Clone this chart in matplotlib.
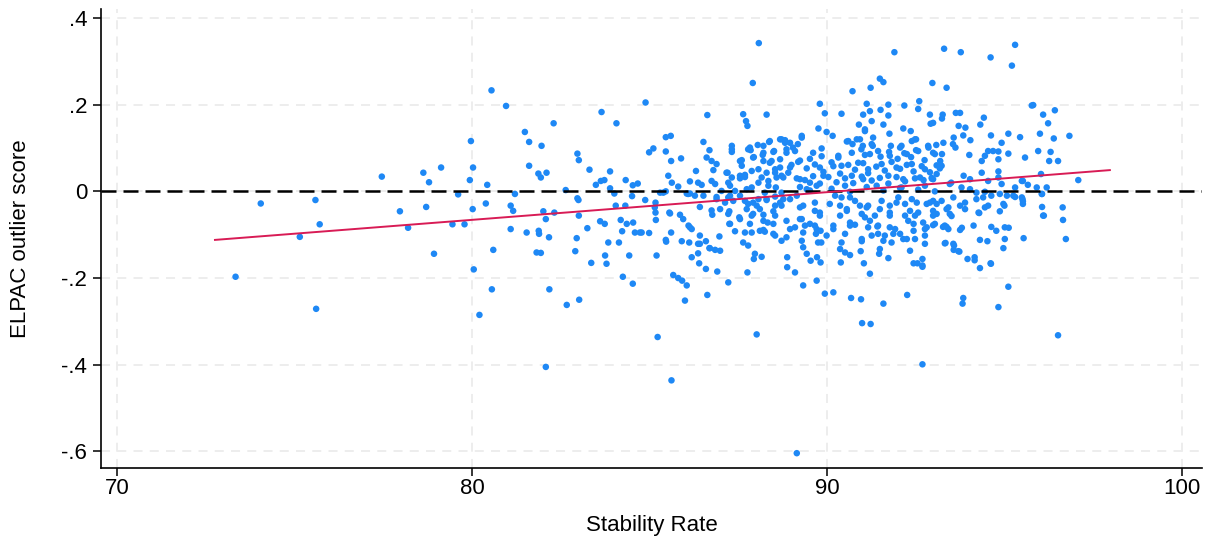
import numpy as np
import matplotlib
matplotlib.use("Agg")
import matplotlib.pyplot as plt

plt.rcParams['font.family'] = ['Liberation Sans', 'DejaVu Sans']

# (stability rate, ELPAC outlier score), grouped by region
tail_pts = [
    (73.34, -0.197), (74.05, -0.028), (75.15, -0.105), (75.59, -0.020), (75.71, -0.076),
    (75.61, -0.271), (77.46, 0.034), (77.97, -0.046), (78.20, -0.084), (78.63, 0.043),
    (78.79, 0.021), (79.13, 0.055), (78.71, -0.036), (78.93, -0.144), (79.45, -0.076),
    (79.61, -0.007), (79.79, -0.076), (79.97, 0.116), (80.03, 0.055), (79.94, 0.026),
    (80.02, -0.041), (80.05, -0.180), (80.21, -0.285),
]

mid_pts = [
    (80.55, 0.233), (80.96, 0.197), (80.43, 0.015), (80.39, -0.028), (80.60, -0.135),
    (80.56, -0.226), (81.49, 0.137), (81.61, 0.114), (81.96, 0.105), (82.30, 0.157),
    (81.61, 0.059), (81.87, 0.041), (81.94, 0.032), (82.10, 0.043), (81.21, -0.006),
    (81.09, -0.033), (81.16, -0.045), (81.09, -0.087), (81.54, -0.095), (81.88, -0.091),
    (81.89, -0.098), (82.01, -0.046), (82.08, -0.064), (82.32, -0.049), (82.17, -0.106),
    (81.82, -0.141), (81.94, -0.142), (82.18, -0.226), (82.08, -0.405), (82.64, 0.003),
    (82.97, 0.087), (83.01, 0.072), (83.31, 0.050), (82.97, -0.016), (83.00, -0.020),
    (83.01, -0.056), (82.95, -0.108), (82.91, -0.138), (83.25, -0.085), (83.36, -0.165),
    (82.67, -0.262), (83.02, -0.250), (83.65, 0.183), (84.07, 0.157), (83.49, 0.015),
    (83.63, 0.024), (83.73, 0.026), (83.89, 0.046), (83.89, 0.007), (84.01, -0.005),
    (84.05, -0.033), (84.32, -0.033), (84.33, 0.026), (83.61, -0.069), (83.74, -0.075),
    (83.84, -0.118), (83.75, -0.148), (83.79, -0.167), (84.14, -0.118), (84.19, -0.066),
    (84.23, -0.092), (84.36, -0.075), (84.54, -0.072), (84.59, -0.095), (84.73, -0.095),
    (84.99, -0.096), (84.43, -0.148), (84.25, -0.197), (84.53, -0.213), (84.53, 0.014),
    (84.67, 0.018), (84.51, -0.011), (84.89, 0.205), (84.99, 0.090), (85.11, 0.099),
    (84.88, -0.020), (85.17, -0.026), (85.17, -0.049), (85.18, -0.066), (85.15, -0.037),
    (85.30, -0.003), (85.39, -0.003), (85.46, 0.000), (85.20, -0.148), (85.23, -0.336),
    (85.62, -0.436), (85.46, 0.125), (85.60, 0.128), (85.46, 0.092), (85.61, 0.070),
    (85.89, 0.076), (85.53, 0.036), (85.63, 0.020), (85.81, 0.011), (85.56, -0.049),
    (85.61, -0.095), (85.86, -0.054), (85.95, -0.064), (86.14, -0.083), (85.46, -0.112),
    (85.47, -0.116), (85.91, -0.115), (86.12, -0.118), (86.19, -0.152), (85.67, -0.193),
    (85.81, -0.200), (85.92, -0.206), (86.05, -0.217), (86.00, -0.252), (86.63, 0.176),
    (86.52, 0.114), (86.61, 0.078), (86.31, 0.047), (86.14, 0.023), (86.37, 0.020),
    (86.47, 0.015), (86.05, -0.005), (86.14, -0.005), (86.42, -0.036), (86.42, -0.121),
    (86.59, -0.115), (86.37, -0.143), (86.40, -0.166), (86.59, -0.179), (86.63, -0.239),
    (86.69, -0.131), (85.58, -0.051), (86.10, -0.079), (86.19, -0.087), (84.78, -0.095),
    (86.37, -0.121), (86.42, -0.102), (86.09, -0.006), (86.28, -0.010), (86.52, -0.010),
]

core_pts = [
    (87.91, 0.250), (87.64, 0.178), (87.72, 0.162), (87.76, 0.151), (88.30, 0.177),
    (86.69, 0.095), (86.75, 0.070), (86.89, 0.063), (86.80, 0.049), (87.32, 0.105),
    (87.32, 0.091), (87.55, 0.070), (87.60, 0.059), (87.78, 0.097), (88.05, 0.107),
    (87.92, 0.078), (88.21, 0.089), (88.21, 0.070), (88.37, 0.114), (88.51, 0.093),
    (88.44, 0.070), (88.68, 0.055), (88.82, 0.118), (88.86, 0.089), (88.54, 0.051),
    (87.20, 0.043), (87.32, 0.032), (87.22, 0.020), (87.55, 0.036), (87.69, 0.033),
    (87.88, 0.047), (88.07, 0.020), (88.30, 0.043), (88.35, 0.024), (88.58, 0.032),
    (88.77, 0.032), (88.91, 0.043), (88.56, 0.009), (86.75, 0.024), (86.85, 0.017),
    (87.03, 0.001), (87.41, 0.001), (87.74, 0.005), (86.89, -0.013), (87.27, -0.010),
    (88.25, -0.003), (88.72, -0.003),
    (86.70, -0.131), (86.85, -0.135), (86.99, -0.137), (86.97, -0.104), (86.91, -0.185),
    (87.22, -0.210), (86.77, -0.054), (86.75, -0.044), (86.99, -0.041), (87.25, -0.046),
    (86.89, -0.018), (87.22, -0.014), (87.55, -0.010), (87.53, -0.060), (87.25, -0.075),
    (87.41, -0.092), (87.83, -0.075), (87.78, -0.029), (87.74, -0.041), (87.92, -0.052),
    (88.11, -0.041), (88.21, -0.054), (88.33, -0.072), (88.49, -0.075), (88.54, -0.033),
    (88.49, -0.046), (88.72, -0.033), (87.92, -0.026), (88.07, -0.018), (88.30, -0.018),
    (88.54, -0.012), (88.77, -0.018), (87.64, -0.118), (87.78, -0.125), (87.88, -0.095),
    (88.21, -0.089), (88.25, -0.093), (88.54, -0.102), (88.72, -0.114), (88.86, -0.106),
    (87.97, -0.144), (87.94, -0.156), (88.16, -0.151), (87.76, -0.187), (88.88, -0.152),
    (88.88, -0.175),
    (88.08, 0.342), (91.90, 0.321), (93.30, 0.329), (92.97, 0.250), (93.37, 0.239),
    (90.72, 0.231), (91.23, 0.239), (91.49, 0.260), (91.59, 0.252), (89.80, 0.202),
    (89.94, 0.180), (89.76, 0.145), (89.99, 0.137), (90.16, 0.128), (90.41, 0.179),
    (91.12, 0.202), (91.21, 0.185), (91.73, 0.200), (92.18, 0.198), (92.60, 0.208),
    (92.57, 0.190), (92.90, 0.177), (92.99, 0.158), (93.26, 0.177), (90.90, 0.154),
    (91.07, 0.143), (91.26, 0.162), (91.59, 0.154), (91.76, 0.133), (92.15, 0.145),
    (92.36, 0.139), (87.83, 0.101), (88.68, 0.120), (88.82, 0.112), (89.04, 0.101),
    (89.18, 0.109), (89.29, 0.128), (90.56, 0.115), (90.72, 0.109), (90.84, 0.120),
    (91.01, 0.105), (91.29, 0.105), (91.80, 0.105), (92.06, 0.101), (92.39, 0.116),
    (92.86, 0.101), (93.08, 0.107), (93.24, 0.086),
    (88.02, -0.330), (89.15, -0.604), (90.99, -0.304), (91.23, -0.306), (92.69, -0.399),
    (92.69, -0.174), (93.34, -0.119), (93.37, -0.082), (93.37, -0.041),
    (91.02, 0.177), (91.51, 0.188), (91.73, 0.175), (92.92, 0.156), (91.07, 0.139),
    (91.30, 0.124), (92.51, 0.120), (89.61, 0.089), (89.85, 0.081), (90.13, 0.067),
    (90.32, 0.078), (90.97, 0.097), (91.21, 0.086), (91.51, 0.080), (91.75, 0.091),
    (91.99, 0.075), (92.18, 0.088), (92.37, 0.079), (92.51, 0.095), (92.75, 0.072),
    (92.99, 0.089), (89.24, 0.071), (89.00, 0.061), (89.43, 0.053), (89.66, 0.062),
    (89.90, 0.045), (90.18, 0.058), (90.37, 0.041), (90.60, 0.061), (90.79, 0.050),
    (91.02, 0.065), (91.16, 0.042), (91.39, 0.057), (91.63, 0.048), (91.82, 0.068),
    (92.06, 0.052), (92.25, 0.061), (92.44, 0.046), (92.67, 0.058), (92.90, 0.044),
    (93.09, 0.060), (89.15, 0.030), (89.38, 0.026), (89.61, 0.035), (89.80, 0.018),
    (90.04, 0.033), (90.27, 0.021), (90.51, 0.030), (90.74, 0.019), (90.98, 0.034),
    (91.26, 0.025), (91.49, 0.031), (91.73, 0.018), (91.96, 0.033), (92.20, 0.023),
    (92.48, 0.030), (92.72, 0.026), (92.95, 0.031), (89.24, 0.010), (89.52, 0.002),
    (90.13, 0.006), (90.65, -0.001), (91.12, 0.010), (91.59, 0.002), (92.06, 0.008),
    (92.57, 0.004), (93.04, 0.000),
    (89.33, -0.033), (89.15, -0.010), (89.66, -0.045), (89.80, -0.056), (89.29, -0.064),
    (89.10, -0.083), (89.38, -0.079), (89.66, -0.079), (89.69, -0.098), (89.82, -0.091),
    (89.29, -0.114), (89.33, -0.129), (89.75, -0.118), (89.84, -0.118), (89.43, -0.144),
    (89.54, -0.160), (89.72, -0.152), (89.82, -0.164), (89.10, -0.187), (89.33, -0.217),
    (89.71, -0.206), (89.94, -0.236), (90.18, -0.233), (90.68, -0.246), (90.96, -0.249),
    (91.59, -0.259), (92.26, -0.239), (90.08, -0.029), (90.37, -0.033), (90.23, -0.010),
    (90.65, -0.014), (90.93, -0.033), (91.12, -0.037), (90.56, -0.045), (90.37, -0.056),
    (91.07, -0.060), (91.21, -0.068), (90.65, -0.079), (90.79, -0.077), (90.18, -0.079),
    (90.18, -0.087), (91.44, -0.079), (91.49, -0.041), (91.77, -0.033), (91.77, -0.056),
    (92.01, -0.014), (92.20, -0.029), (92.34, -0.045), (92.53, -0.026), (92.48, -0.056),
    (92.29, -0.068), (92.71, -0.072), (92.90, -0.026), (93.09, -0.052), (93.04, -0.075),
    (92.81, -0.083), (91.77, -0.083), (91.87, -0.098), (92.06, -0.098), (92.44, -0.091),
    (92.48, -0.110), (92.76, -0.102), (92.76, -0.121), (91.26, -0.102), (91.44, -0.098),
    (91.59, -0.114), (91.82, -0.118), (92.15, -0.110), (90.41, -0.118), (90.98, -0.115),
    (90.37, -0.133), (90.51, -0.141), (90.65, -0.147), (90.95, -0.138), (91.49, -0.133),
    (91.47, -0.144), (91.73, -0.154), (92.34, -0.137), (90.39, -0.164), (91.04, -0.166),
    (91.21, -0.190), (92.44, -0.166), (92.55, -0.166), (92.69, -0.156), (92.69, -0.171),
]

# extra points from a closer look at the densest part of the cloud
core_extra = [
    (88.39, 0.116), (88.72, 0.120), (88.96, 0.112), (89.29, 0.124), (87.32, 0.097),
    (87.85, 0.095), (88.21, 0.105), (88.49, 0.091), (88.86, 0.097), (89.10, 0.093),
    (89.85, 0.099), (87.60, 0.072), (87.94, 0.079), (88.19, 0.084), (88.39, 0.066),
    (88.68, 0.074), (89.19, 0.068), (89.52, 0.075), (89.80, 0.055), (87.17, 0.043),
    (87.55, 0.030), (87.69, 0.038), (88.07, 0.051), (88.16, 0.032), (88.54, 0.043),
    (88.72, 0.036), (88.96, 0.055), (89.24, 0.028), (89.52, 0.020), (89.90, 0.036),
    (87.27, 0.013), (87.88, 0.009), (88.35, 0.013), (89.43, 0.005), (89.71, 0.013),
    (87.13, -0.026), (87.36, -0.022), (87.69, -0.022), (88.02, -0.033), (88.30, -0.020),
    (88.68, -0.026), (88.96, -0.018), (89.24, -0.037), (89.66, -0.026), (89.80, -0.049),
    (87.22, -0.052), (87.55, -0.064), (87.88, -0.056), (88.21, -0.068), (88.54, -0.056),
    (88.86, -0.068), (89.24, -0.064), (89.52, -0.075), (87.27, -0.075), (87.69, -0.095),
    (88.11, -0.091), (88.49, -0.098), (88.96, -0.087), (89.33, -0.095), (89.71, -0.087),
    (89.99, -0.102),
    (90.60, 0.116), (90.93, 0.120), (91.26, 0.109), (92.10, 0.105), (92.48, 0.120),
    (92.85, 0.105), (93.28, 0.112), (90.32, 0.082), (90.70, 0.089), (91.07, 0.084),
    (91.44, 0.093), (91.77, 0.082), (92.25, 0.086), (92.57, 0.093), (93.04, 0.086),
    (90.41, 0.059), (90.88, 0.066), (91.16, 0.051), (91.54, 0.063), (91.96, 0.055),
    (92.39, 0.063), (92.76, 0.051), (93.23, 0.059), (90.70, 0.036), (91.02, 0.028),
    (91.73, 0.036), (92.15, 0.028), (92.62, 0.032), (92.99, 0.028), (90.51, 0.013),
    (91.40, 0.013), (92.10, 0.009), (92.76, 0.013), (90.41, -0.014), (90.79, -0.022),
    (91.16, -0.033), (91.54, -0.022), (91.96, -0.026), (92.39, -0.018), (92.81, -0.029),
    (93.23, -0.022), (90.56, -0.041), (90.98, -0.052), (91.35, -0.056), (91.77, -0.049),
    (92.20, -0.056), (92.57, -0.049), (92.99, -0.056), (90.65, -0.072), (91.16, -0.083),
    (91.42, -0.081), (91.92, -0.087), (92.44, -0.075), (92.76, -0.087), (93.32, -0.079),
    (90.51, -0.098), (90.98, -0.110), (91.63, -0.102), (92.25, -0.110),
]

right_pts = [
    (95.81, 0.199), (96.42, 0.187), (96.09, 0.177), (96.23, 0.157), (93.63, 0.181),
    (93.75, 0.181), (93.24, 0.168), (94.42, 0.170), (94.32, 0.154), (93.71, 0.151),
    (93.90, 0.147), (93.84, 0.129), (94.04, 0.118), (93.57, 0.124), (93.55, 0.109),
    (93.62, 0.101), (94.62, 0.129), (95.11, 0.133), (94.92, 0.112), (95.44, 0.125),
    (96.00, 0.133), (96.39, 0.122), (96.83, 0.128), (94.01, 0.084), (94.54, 0.093),
    (94.68, 0.093), (94.83, 0.092), (94.45, 0.082), (94.36, 0.070), (95.11, 0.087),
    (94.83, 0.074), (95.58, 0.078), (95.95, 0.093), (96.30, 0.091), (96.26, 0.070),
    (96.51, 0.070), (93.19, 0.070), (93.18, 0.053), (93.09, 0.040), (92.96, 0.029),
    (93.85, 0.036), (94.03, 0.028), (94.36, 0.043), (94.54, 0.024), (94.83, 0.046),
    (94.83, 0.032), (93.46, 0.017), (93.50, 0.020), (93.79, 0.009), (94.03, 0.005),
    (94.21, -0.003), (94.45, -0.001), (94.92, 0.017), (95.30, 0.009), (95.49, 0.024),
    (95.91, 0.009), (97.08, 0.026), (94.87, -0.006), (95.07, -0.010), (95.25, -0.010),
    (92.99, -0.022), (93.09, -0.029), (92.99, -0.045), (93.42, -0.037), (93.46, -0.052),
    (93.51, -0.057), (93.75, -0.033), (93.89, -0.026), (93.89, -0.041), (93.56, -0.014),
    (94.21, -0.018), (94.40, -0.014), (94.63, -0.010), (94.54, -0.033), (94.45, -0.037),
    (94.27, -0.049), (94.29, -0.050), (94.97, -0.029), (95.00, -0.033), (94.87, -0.046),
    (95.30, -0.013), (95.49, -0.014), (95.52, -0.029), (96.06, -0.006), (96.06, -0.036),
    (96.09, -0.056), (96.64, -0.037), (96.65, -0.066), (96.73, -0.110), (95.54, -0.108),
    (92.99, -0.078), (93.27, -0.082), (93.42, -0.087), (93.75, -0.089), (93.80, -0.084),
    (94.13, -0.079), (94.63, -0.082), (94.77, -0.091), (95.01, -0.083), (95.12, -0.084),
    (95.01, -0.110), (94.31, -0.112), (94.52, -0.115), (93.32, -0.120), (93.56, -0.121),
    (93.58, -0.125), (93.73, -0.139), (94.97, -0.131), (93.96, -0.156), (94.16, -0.152),
    (94.16, -0.159), (94.31, -0.177), (94.61, -0.166), (95.11, -0.220), (93.84, -0.246),
    (93.82, -0.259), (94.83, -0.267),
    (93.77, 0.321), (94.61, 0.309), (95.30, 0.338), (95.21, 0.290), (95.77, 0.198),
    (96.03, 0.040), (96.19, 0.009), (96.05, -0.006), (96.11, -0.056), (95.52, 0.024),
    (95.66, 0.015), (95.51, -0.018), (95.52, -0.023), (96.51, -0.332), (94.62, -0.167),
    (93.57, -0.135), (93.70, -0.138),
]

# fitted line end points as drawn in the chart
fit_x = [72.76, 97.97]
fit_y = [-0.112, 0.049]

xticks = [70, 80, 90, 100]
yticks = [0.4, 0.2, 0.0, -0.2, -0.4, -0.6]
ytick_labels = ['.4', '.2', '0', '-.2', '-.4', '-.6']

pts = np.array(tail_pts + mid_pts + core_pts + core_extra + right_pts)

fig = plt.figure(figsize=(12.07, 5.46), dpi=100)
ax = fig.add_axes([0.0837, 0.143, 0.912, 0.84])

ax.grid(True, color='#ececec', linestyle=(0, (5, 4)), linewidth=1.3, zorder=0)
ax.scatter(pts[:, 0], pts[:, 1], s=22, color='#1e88f5', edgecolors='none', zorder=2)
ax.axhline(0, color='black', linestyle=(0, (6, 2.8)), linewidth=1.8, zorder=3)
ax.plot(fit_x, fit_y, color='#d81b55', linewidth=1.4, zorder=4)

ax.set_xlim(69.55, 100.56)
ax.set_ylim(-0.638, 0.42)
ax.set_xticks(xticks)
ax.set_yticks(yticks)
ax.set_yticklabels(ytick_labels)
ax.tick_params(labelsize=16, length=6, width=1.1, colors='black')
ax.tick_params(axis='x', pad=1)
ax.tick_params(axis='y', pad=4)
ax.spines['top'].set_visible(False)
ax.spines['right'].set_visible(False)
ax.spines['left'].set_linewidth(1.2)
ax.spines['bottom'].set_linewidth(1.2)
ax.set_xlabel('Stability Rate', fontsize=16, labelpad=12)
ax.set_ylabel('ELPAC outlier score', fontsize=16, labelpad=22)

fig.savefig('out.png', dpi=100)
